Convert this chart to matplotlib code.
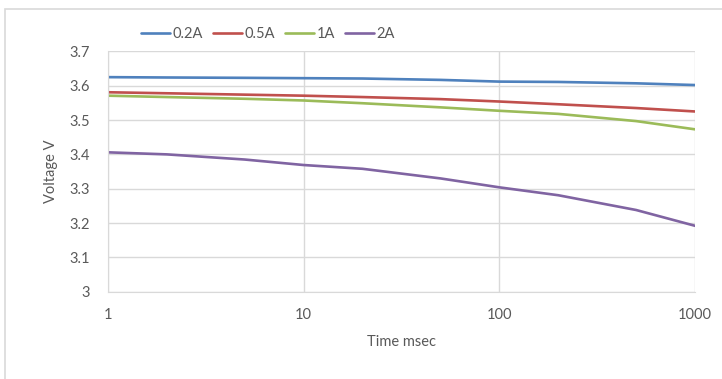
import numpy as np
import matplotlib.pyplot as plt
from matplotlib.patches import Rectangle

# tiempos (msec) y voltajes
tiempo = [1, 2, 5, 10, 20, 50, 100, 200, 500, 1000]
v_02A = [3.625, 3.624, 3.623, 3.622, 3.621, 3.617, 3.612, 3.611, 3.607, 3.602]
v_05A = [3.581, 3.578, 3.574, 3.571, 3.567, 3.561, 3.554, 3.546, 3.535, 3.525]
v_1A = [3.571, 3.567, 3.562, 3.557, 3.549, 3.537, 3.527, 3.518, 3.497, 3.473]
v_2A = [3.406, 3.400, 3.385, 3.369, 3.358, 3.330, 3.304, 3.281, 3.238, 3.192]

etiquetas = ['0.2A', '0.5A', '1A', '2A']
colores = ['#4F81BD', '#C0504D', '#9BBB59', '#8064A2']
yticks = [3, 3.1, 3.2, 3.3, 3.4, 3.5, 3.6, 3.7]
xticks = [1, 10, 100, 1000]

plt.rcParams['font.family'] = ['Lato', 'DejaVu Sans']
gris_txt = '#595959'
gris_grid = '#D9D9D9'

fig = plt.figure(figsize=(7.22, 3.79), dpi=100)
fig.patches.append(Rectangle((5 / 722, -0.1), 1.2, 1 - 9 / 379 + 0.1,
                             transform=fig.transFigure, fill=False,
                             edgecolor=gris_grid, linewidth=1.2))
ax = fig.add_axes([108 / 722, 1 - 291.7 / 379, 587 / 722, 240.3 / 379])

for serie, lab, col in zip([v_02A, v_05A, v_1A, v_2A], etiquetas, colores):
    ax.plot(tiempo, serie, color=col, lw=1.9, label=lab, solid_capstyle='round')

ax.set_xscale('log')
ax.set_xlim(1, 1000)
ax.set_ylim(3, 3.7)
ax.set_xticks(xticks)
ax.set_xticklabels([str(t) for t in xticks])
ax.minorticks_off()
ax.set_yticks(yticks)
ax.set_yticklabels(['3', '3.1', '3.2', '3.3', '3.4', '3.5', '3.6', '3.7'])
ax.tick_params(length=0, labelsize=10.5, colors=gris_txt)
ax.tick_params(axis='x', pad=12)
ax.tick_params(axis='y', pad=13)
ax.grid(True, color=gris_grid, lw=1)
ax.set_axisbelow(True)
for s in ax.spines.values():
    s.set_color(gris_grid)
ax.spines['top'].set_visible(False)
ax.spines['right'].set_visible(False)

ax.set_xlabel('Time msec', fontsize=10.5, color=gris_txt, labelpad=9)
ax.set_ylabel('Voltage V', fontsize=10.5, color=gris_txt, labelpad=8)

fig.legend(loc='center', bbox_to_anchor=(268 / 722, 1 - 34 / 379), ncol=4,
           frameon=False, fontsize=10.5, handlelength=2.0, columnspacing=0.7,
           handletextpad=0.15, labelcolor=gris_txt)

fig.savefig('out.png', dpi=100)
